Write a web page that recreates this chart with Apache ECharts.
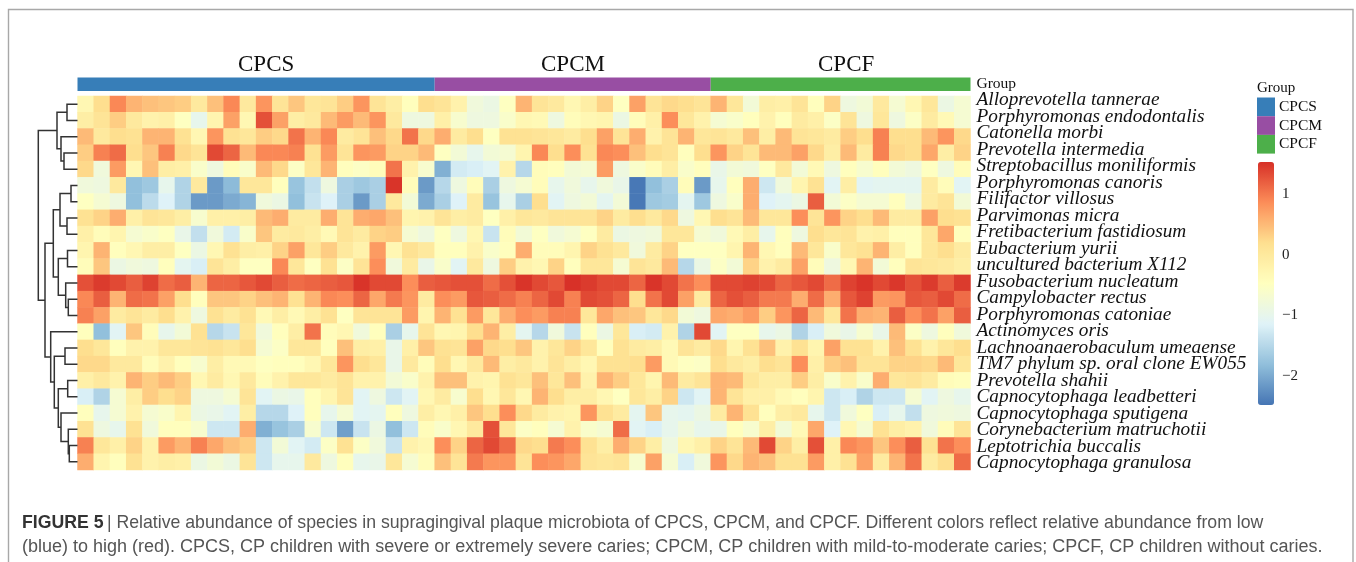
<!DOCTYPE html>
<html><head><meta charset="utf-8">
<style>html,body{margin:0;padding:0;background:#fff}#c{width:1356px;height:562px}</style>
<script src="https://cdn.jsdelivr.net/npm/echarts@6/dist/echarts.min.js"></script>
</head><body><div id="c"></div>
<script>
const species = ["Alloprevotella tannerae","Porphyromonas endodontalis","Catonella morbi","Prevotella intermedia","Streptobacillus moniliformis","Porphyromonas canoris","Filifactor villosus","Parvimonas micra","Fretibacterium fastidiosum","Eubacterium yurii","uncultured bacterium X112","Fusobacterium nucleatum","Campylobacter rectus","Porphyromonas catoniae","Actinomyces oris","Lachnoanaerobaculum umeaense","TM7 phylum sp. oral clone EW055","Prevotella shahii","Capnocytophaga leadbetteri","Capnocytophaga sputigena","Corynebacterium matruchotii","Leptotrichia buccalis","Capnocytophaga granulosa"];
const groupNames = ["CPCS","CPCM","CPCF"];
const groupSizes = [22,17,16];
const groupColors = ["#377EB8","#984EA3","#4DAF4A"];
const colorTicks = [-2,-1,0,1];
const colorStops = ["#4575B4","#91BFDB","#E0F3F8","#FFFFBF","#FEE090","#FC8D59","#D73027"];
const r00 = [-.3,.2,.9,.55,.45,.4,.35,0,.45,.9,0,.8,.1,.4,.05,.1,.35,.8,.1,-.1,-.45,.2,.1,-.2,-.8,-.9,-.5,.55,.1,0,-.3,-.1,.3,-.5,.7,.1,.25,.2,.1,.55,.05,-.75,-.1,-.15,.1,-.45,.3,-.85,-.75,0,-.7,-.3,.05,-.9,-.7];
const r01 = [-.1,.1,.35,0,-.2,-.15,-.5,-1,-.25,.7,-.3,1.3,.7,-.1,0,.5,.75,.5,.8,0,-.85,-.85,-.15,-.65,-.85,-.85,-.6,-.3,-.35,-.85,-.4,-.3,-.25,-.9,-.4,-.15,.85,.05,-.2,-.7,-.6,-.45,-.2,-.45,-.05,-.15,-.55,.1,-.85,.05,-.85,-.55,-.05,-.35,-.7];
const r02 = [.5,0,.2,.15,.55,.55,.15,-.3,.8,.15,.05,.35,.25,1.05,.55,.9,-.05,.1,.45,.25,1.05,.25,.6,-.05,.2,-.5,.15,.15,.1,.05,-.05,.2,.7,.1,.6,-.2,.1,.55,.05,.1,0,.45,-.1,.5,.1,.05,-.05,.35,.2,.95,.2,.2,.5,.8,.25];
const r03 = [.35,.95,1.1,.2,.4,.95,.25,.1,1.35,1.15,.5,.9,.9,.95,.15,.75,.1,.8,.75,.3,.3,.5,-.5,-.75,-1,-.75,-.7,-.25,.9,.2,.85,.15,.9,.85,.45,.2,.1,-.45,.2,.8,.3,.1,.5,.5,.7,.25,-.1,.5,-.05,.95,.25,.2,.65,-.1,.3];
const r04 = [.25,-.8,.75,-.3,.45,-.1,-.15,-.6,-.85,-.4,-.6,.5,.25,-.55,.05,.55,-.45,-.55,-.4,1.05,-.2,-.65,-1.95,-1.25,-1.2,-1.1,-.2,-1.5,-.4,-.45,-.75,-.7,.75,-.85,-.6,-.4,-.1,-.6,-.45,-.95,-.75,-.8,-.5,0,-.75,-.35,-.85,-.45,-.65,-.45,-.75,-.85,-.5,-.85,-.4];
const r05 = [-.8,-.85,0,-1.8,-1.7,-1,-1.55,0,-2.15,-1.85,.05,.05,-.45,-1.75,-1.4,-.85,-1.6,-1.7,-1.6,1.5,-.4,-2.15,-1.5,-.85,-.4,-1.6,-.85,-.7,-.4,-1,-.8,-1,-.8,-.95,-2.45,-1.8,-1.6,-.4,-2.15,-1,-.45,.6,-1.3,-.8,-.25,.15,-1.1,-.1,-1.1,-1.05,-1.05,-1.05,-.05,-.4,-1.1];
const r06 = [-.5,-.7,-.85,-1.8,-1.45,-1.15,-1.55,-2.15,-2.15,-2,-1.9,-.8,-.9,-1.8,-1.35,-1.15,-1.6,-2.15,-1.6,0,-.75,-2,-1.6,-1.15,-.05,-1.75,-1,-1.6,.2,-1.1,-.85,-.75,-1.05,-.75,-2.45,-1.7,-1.65,-1.05,-1.7,-.85,-.6,.6,-1.15,-1.05,-.9,1.2,-.75,-.55,-.7,-.7,-.45,-.85,-.05,.1,-.75];
const r07 = [.15,.3,.6,-.15,.1,.05,-.1,-.65,-.15,-.15,-.1,.5,.6,-.05,-.05,.6,.1,.6,.65,.45,-.25,-.2,.1,-.1,-.05,-.5,-.15,.05,0,.1,.1,.1,.3,-.05,.2,0,.25,-.85,-.3,.2,.1,.5,.05,.05,.85,.1,.8,.3,.2,.5,-.05,-.05,.7,.2,.15];
const r08 = [-.15,-.4,-.25,-.7,-.6,-.5,-.95,-1.4,-.8,-1.25,-.6,.4,-.05,0,-.1,-.35,.1,-.05,.3,.35,-.7,-.85,-.5,-.85,-.3,-1.35,-.4,-.75,-.5,-.8,-.7,-.5,-.05,-.9,-.85,-.8,.05,.05,-.7,-.8,-.35,-.1,-1,-.45,-.85,.2,.05,.1,-.2,-.15,-.45,-.45,.05,.65,-.45];
const r09 = [-.25,.55,-.45,-.3,-.1,-.1,-.5,-.9,-.3,.15,-.1,-.15,.3,.7,.05,.35,0,-.2,.75,-.3,.15,0,-.45,-.45,-.2,-.6,-.45,.6,-.4,-.4,-.25,.3,.15,0,-.8,-.05,.3,-.5,-.5,-.5,-.25,.55,-.3,-.45,.5,.05,-.6,.05,.15,.55,-.1,-.45,.05,.2,-.05];
const r10 = [-.4,.4,-.9,-.8,-.85,-.45,-1.05,-1.2,.1,-.1,-.5,-.5,.9,.05,-.5,.15,-.55,.1,.85,-.8,-.05,-.95,-.6,-1.1,0,-.85,.35,-.2,-.3,.3,-.45,.05,.05,-.7,.1,0,.5,-1.5,-.9,-.55,-.75,.3,-.2,-.05,.7,-.4,-.85,-.3,.55,-.75,-.45,.1,.05,0,-.1];
const r11 = [1.3,1.45,1.35,1.2,1.4,1.1,1.2,.55,1.15,1.15,1.25,1.35,1.2,1.1,1.15,1.2,1.25,1.5,1.35,1.35,.85,1.2,1.25,1.3,1.3,1.1,1.3,1.5,1.35,1.25,1.52,1.45,1.35,1.35,1.15,1.5,1.35,1.05,.85,1.35,1.35,1.4,1.35,1.15,1.25,1.35,1.1,1.4,1.5,1.35,1.48,1.3,1.45,1.2,1.45];
const r12 = [.9,1.2,.55,1.1,1.05,.7,.2,-.45,.4,.4,.3,.45,.55,.15,.55,.9,.85,1.15,.65,1,.8,-.05,.85,.75,1.25,1.2,1.1,.95,1.15,1.35,.95,1.35,1.3,1.15,.2,1.05,1.35,.7,-.05,1.15,1.3,1.2,1,1,.6,1.1,.6,1.25,1.4,.75,.8,1.25,1.2,1.35,1.1];
const r13 = [.95,.7,-.05,.1,-.05,.2,-.2,-.85,.15,-.05,.15,-.35,-.1,-.35,-.1,.15,-.5,.1,.1,.1,.75,-.25,.55,.15,.75,.05,.6,.85,.75,.95,.95,.05,.65,.45,.4,.05,.25,-.75,-.85,.65,.6,.75,.35,.8,1.15,.5,.05,1.05,.6,.55,1.2,.85,1.05,.7,1.2];
const r14 = [-.45,-1.8,-1.1,.4,-.4,-1,-.75,.15,-1.5,-1.35,.05,-.8,-.45,-.1,1.05,-.4,-.3,-.8,-.45,-1.6,-1,.1,-.3,-.25,.2,.55,-.1,-1.05,-1.5,-.8,-1.35,-.45,-.9,.05,-1.2,-1.25,-.2,-1.55,1.35,-1.1,-.5,-.5,-1,-.9,-1.55,-1.2,-.8,-.95,-.65,-.95,.5,-.55,-.85,-.45,-.8];
const r15 = [.2,.05,-.45,-.2,-.2,.05,.05,.1,.15,.05,.2,-.7,-.55,.05,.05,-.45,.45,-.1,-.15,-.95,-.15,.4,.15,.1,.7,.25,.2,.4,-.2,.05,.3,.05,-.45,.15,-.05,-.1,-.35,.1,-.05,.25,-.25,.15,.45,-.2,.15,-.25,.7,.15,.15,-.2,.45,.15,-.2,.05,.2];
const r16 = [.25,.25,0,0,-.4,-.2,-.45,-.65,-.1,-.35,-.35,-.5,-.45,-.45,-.3,.05,.8,.2,.05,-.95,0,-.4,.2,-.3,0,.5,-.1,0,-.2,.1,-.1,-.3,.15,.15,.2,.75,-.35,-.5,-.55,.2,0,-.1,.2,.1,.85,-.15,.35,.45,.1,.1,.3,.3,.25,.5,.05];
const r17 = [-.15,0,-.2,.55,.35,.5,.35,-.3,-.05,-.3,0,-.4,-.2,.05,.05,-.05,.1,-.2,-.2,-.75,-.6,-.2,.45,.45,-.2,-.25,.15,.05,.45,.05,.45,-.2,.55,.35,.05,-.25,.5,-.05,.1,.55,.5,.05,-.1,-.1,.35,-.1,-.6,-.2,-.6,.6,.05,.1,-.05,-.4,-.45];
const r18 = [-1.2,-1.55,-.7,-.1,.35,.2,.3,-.85,-.85,-.7,.1,-1.1,-.9,-.95,-.45,-.25,.1,-1.1,-.85,-1.3,-1.1,-.3,-.05,-.65,.2,-.3,.05,-.3,.55,.2,-.1,-.1,-.3,-.5,.05,-.1,.3,-1.3,-1.1,.55,.1,-.15,-.15,-.35,-.45,-.25,-1.3,-1.2,-1.55,-1.3,-1.3,-.7,-1.1,-.85,-1];
const r19 = [-.45,-1,-.7,-.2,-.7,-.6,-.25,-.9,-.95,-1.1,-.1,-1.5,-1.5,-1.15,-.45,-1,-.7,-1.1,-1.05,-.45,-.85,-.1,-.3,-.15,.4,.2,.85,.25,-.05,-.2,-.25,.8,.15,-.05,-1.05,.4,-1,-1.05,-.9,-.05,.55,.15,-.45,-.1,0,-1,-1.3,-.8,-.5,-1.2,-1,-1.4,-.85,-.8,-.85];
const r20 = [.15,-.85,-1,.15,-.8,-.45,-.45,-.65,-1.3,-1.3,.6,-1.95,-1.75,-1.6,-.65,-1.3,-2.1,-1.35,-.9,-1.8,-1.3,-.4,-.6,-.3,0,1.3,.05,-.55,-.45,-.7,-.2,-.6,-.7,1.1,-1.1,-1.2,-1,-.8,-1,-.95,-.45,-.65,-.1,-.75,-.35,.65,-1.15,-.3,-.7,.15,-.1,-.2,-.8,-.4,.1];
const r21 = [.95,.05,-.15,.3,-.2,.75,.55,.95,.65,.45,.35,-1.3,-.75,-1.1,-1.25,-.55,.15,-.55,-.8,-1.35,-.2,-.3,.85,.3,1.15,1.35,1.1,.25,.2,1,.85,.15,-.1,.6,.3,-.1,-.85,-.3,-.15,.3,.1,.5,1.35,.3,-.1,1.3,-.15,.9,.8,.4,.85,1.2,.15,1.05,.85];
const r22 = [.6,-.25,-.45,.15,-.2,-.1,-.15,-.9,-.75,-.9,.1,-1.3,-1,-1,0,-.85,-.45,-1,-.95,.05,-.7,-.4,.45,.1,1,.8,.8,.1,.85,.8,.65,.1,.05,.1,-.65,.7,-.7,-1.2,-.8,.8,.25,.55,.45,.15,.15,.75,-.15,.15,.7,-.05,.55,1.05,-.05,.2,1.1];
const abundanceRows = [r00,r01,r02,r03,r04,r05,r06,r07,r08,r09,r10,r11,r12,r13,r14,r15,r16,r17,r18,r19,r20,r21,r22];
// dendrogram tree: [left child, right child, height]; numbers are leaves (rows), strings are earlier nodes
const merges = {
  a1:[0,1,10.5], a2:[3,4,13.5], a3:[2,"a2",16.5], A:["a1","a3",20.5],
  e1:[5,6,6.5], e2:[7,8,10.5], E:["e1","e2",17.5],
  f1:[9,10,10], f2:[12,13,9.2], f3:[11,"f2",11.8], F:["f1","f3",19.2], C:["E","F",24.2],
  g1:[15,16,12.5], h1:[17,18,9.8], k1:[21,22,8.2], j1:[20,"k1",9.2], i1:[19,"j1",16.5], H:["h1","i1",19.2], G:["g1","H",23.2],
  D:[14,"G",26.8], B:["C","D",32.5], R:["A","B",39.2]
};
function nodePos(n){ if(typeof n==="number") return [0,n+0.5]; const m=merges[n]; return [m[2],(nodePos(m[0])[1]+nodePos(m[1])[1])/2]; }
const dendroData = Object.values(merges).map(m=>{const l=nodePos(m[0]),r=nodePos(m[1]);return [l[0],l[1],r[0],r[1],m[2]];});

const columns = r00.map((_,i)=>String(i+1));
const heatData = [];
abundanceRows.forEach((row,y)=>row.forEach((v,x)=>heatData.push([x,y,v])));

const serif = '"Liberation Serif","Times New Roman",serif';
const sans = '"Liberation Sans",Arial,sans-serif';
const grp = (name,x)=>({type:'text',left:x,top:53,style:{text:name,font:'23px '+serif,fill:'#111'}});

const chart = echarts.init(document.getElementById('c'),null,{renderer:'canvas'});
chart.setOption({
  animation:false,
  backgroundColor:'#fff',
  grid:[
    {left:77.5,top:96,width:893,height:374},
    {left:77.5,top:77.5,width:893,height:13.5},
    {left:38,top:96,width:39.5,height:374},
    {left:1258,top:162,width:16,height:243},
    {left:77.5,top:91.75,width:893,height:379.5}
  ],
  xAxis:[
    {gridIndex:0,type:'category',data:columns,show:false},
    {gridIndex:1,type:'value',min:0,max:55,show:false},
    {gridIndex:2,type:'value',min:0,max:39.5,inverse:true,show:false},
    {gridIndex:3,type:'value',min:0,max:1,show:false},
    {gridIndex:4,type:'value',min:0,max:1,show:false}
  ],
  yAxis:[
    {gridIndex:0,type:'category',data:species,inverse:true,show:false},
    {gridIndex:1,type:'category',data:['Group'],position:'right',
     axisLine:{show:false},axisTick:{show:false},
     axisLabel:{margin:6,fontFamily:serif,fontSize:15.5,color:'#111'}},
    {gridIndex:2,type:'value',min:0,max:23,inverse:true,show:false},
    {gridIndex:3,type:'value',min:-2.48,max:1.53,position:'right',
     axisLine:{show:false},axisTick:{show:false},splitLine:{show:false},
     axisLabel:{customValues:colorTicks,margin:8,fontFamily:serif,fontSize:15,color:'#222',
       formatter:v=>String(v).replace('-','\u2212')}},
    {gridIndex:4,type:'category',data:species,inverse:true,position:'right',
     axisLine:{show:false},axisTick:{show:false},splitLine:{show:false},
     axisLabel:{show:true,interval:0,margin:6,fontFamily:serif,fontStyle:'italic',fontSize:19.3,color:'#111'}}
  ],
  visualMap:{type:'continuous',seriesIndex:0,min:-2.48,max:1.53,calculable:false,orient:'vertical',
    left:1258,top:162,itemWidth:16,itemHeight:243,padding:0,text:null,showLabel:false,
    inRange:{color:colorStops},textStyle:{color:'rgba(0,0,0,0)',fontSize:1}},
  legend:{show:true,orient:'vertical',left:1257,top:97.5,padding:0,itemGap:0,itemWidth:18,itemHeight:18.7,
    selectedMode:false,icon:'rect',data:groupNames,
    textStyle:{fontFamily:serif,fontSize:15.5,color:'#111',padding:[0,0,0,-1]}},
  series:[
    {type:'heatmap',xAxisIndex:0,yAxisIndex:0,data:heatData,progressive:0,emphasis:{disabled:true}},
    ...groupNames.map((n,i)=>({type:'bar',name:n,xAxisIndex:1,yAxisIndex:1,stack:'group',barWidth:'100%',
      data:[groupSizes[i]],itemStyle:{color:groupColors[i]}})),
    {type:'custom',xAxisIndex:2,yAxisIndex:2,data:dendroData,silent:true,clip:false,
     encode:{x:[0,2,4],y:[1,3]},
     renderItem:(p,api)=>{
       const h1=api.value(0),y1=api.value(1),h2=api.value(2),y2=api.value(3),h=api.value(4);
       return {type:'polyline',shape:{points:[api.coord([h1,y1]),api.coord([h,y1]),api.coord([h,y2]),api.coord([h2,y2])]},
         style:{stroke:'#333',lineWidth:1.5,fill:null}};
     }}
  ],
  graphic:[
    {type:'polyline',shape:{points:[[8.5,570],[8.5,9.5],[1353,9.5],[1353,570]]},style:{stroke:'#a8a8a8',lineWidth:1.4,fill:null},silent:true},
    grp('CPCS',238),grp('CPCM',541),grp('CPCF',818),
    {type:'text',left:1257,top:81,style:{text:'Group',font:'15px '+serif,fill:'#111'}},
    {type:'text',left:22,top:514,style:{
      rich:{b:{fontFamily:sans,fontWeight:'bold',fontSize:17.7,fill:'#333'},n:{fontFamily:sans,fontSize:17.7,fill:'#555'}},
      text:'{b|FIGURE 5} {n|| Relative abundance of species in supragingival plaque microbiota of CPCS, CPCM, and CPCF. Different colors reflect relative abundance from low}'}},
    {type:'text',left:22,top:538,style:{font:'18px '+sans,fill:'#555',
      text:'(blue) to high (red). CPCS, CP children with severe or extremely severe caries; CPCM, CP children with mild-to-moderate caries; CPCF, CP children without caries.'}}
  ]
});
</script></body></html>
